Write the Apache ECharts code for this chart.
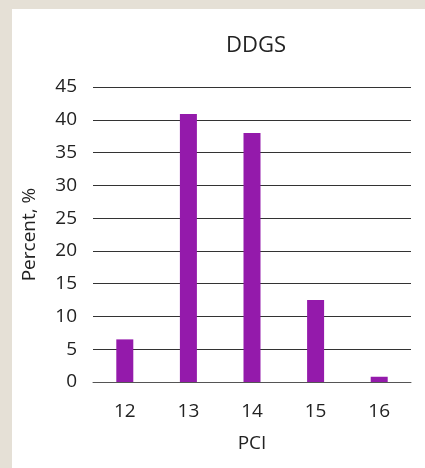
<!DOCTYPE html>
<html><head><meta charset="utf-8">
<script src="https://cdn.jsdelivr.net/npm/echarts@6/dist/echarts.min.js"></script>
<style>
html,body{margin:0;padding:0;background:#e5e0d6;}
#panel{position:absolute;left:12px;top:9px;width:413px;height:459px;background:#fff;}
#c{position:absolute;left:0;top:0;width:425px;height:468px;}
</style></head><body>
<div id="panel"></div>
<div id="c"></div>
<script>
const categories = ['12','13','14','15','16'];
const percentValues = [6.5, 40.9, 38.0, 12.5, 0.8];
const yTicks = {min:0, max:45, interval:5};
const chart = echarts.init(document.getElementById('c'), null, {renderer:'canvas'});
const font = '"Open Sans", "Noto Sans", sans-serif';
chart.setOption({
  backgroundColor:'transparent',
  title:{text:'DDGS', left:251, top:30, textAlign:'center',
    textStyle:{fontFamily:font, fontSize:22, fontWeight:'normal', color:'#222'}},
  grid:{left:93, right:14, top:87, bottom:86},
  xAxis:{type:'category', data:categories, name:'PCI', nameLocation:'middle', nameGap:52,
    nameTextStyle:{fontFamily:font, fontSize:19, color:'#222'},
    axisLine:{show:true, lineStyle:{color:'#555', width:1}}, axisTick:{show:false},
    axisLabel:{fontFamily:font, fontSize:19, color:'#222', margin:20}},
  yAxis:{type:'value', min:yTicks.min, max:yTicks.max, interval:yTicks.interval,
    name:'Percent, %', nameLocation:'middle', nameGap:54,
    nameTextStyle:{fontFamily:font, fontSize:19, color:'#222'},
    axisLine:{show:false}, axisTick:{show:false},
    axisLabel:{fontFamily:font, fontSize:19, color:'#222', margin:16},
    splitLine:{lineStyle:{color:'#333', width:1}}},
  series:[{type:'bar', data:percentValues, barWidth:17, itemStyle:{color:'#941aab'}, animation:false}]
});
</script></body></html>
